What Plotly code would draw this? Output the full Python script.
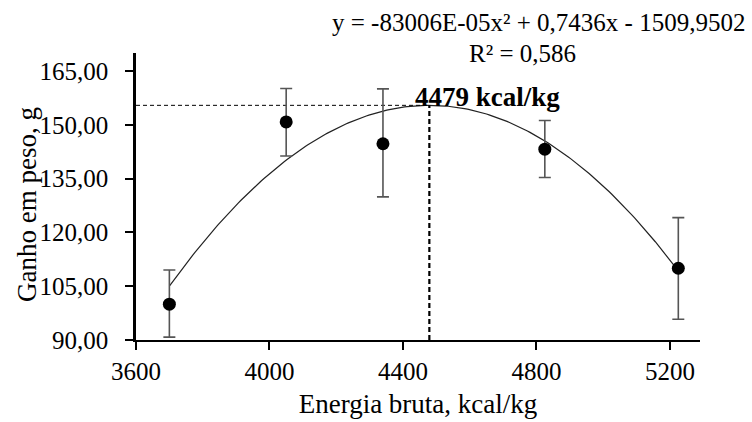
import plotly.graph_objects as go
import numpy as np

# Data
energy = [3700, 4050, 4340, 4825, 5225]
gain = [100.0, 150.8, 144.7, 143.2, 110.0]
err_plus = [9.5, 9.3, 15.3, 8.0, 14.1]
err_minus = [9.2, 9.5, 14.8, 7.9, 14.2]
coef_a, coef_b, coef_c = -8.3006e-05, 0.7436, -1509.9502
optimum = 4479
x_ticks = [3600, 4000, 4400, 4800, 5200]
y_ticks = [90, 105, 120, 135, 150, 165]
y_tick_labels = ["90,00", "105,00", "120,00", "135,00", "150,00", "165,00"]

FONT = "Liberation Serif"

xc = np.linspace(min(energy), max(energy), 200)
yc = coef_a * xc**2 + coef_b * xc + coef_c
ypeak = coef_a * optimum**2 + coef_b * optimum + coef_c

fig = go.Figure()
fig.add_trace(go.Scatter(x=xc, y=yc, mode="lines",
                         line=dict(color="#222222", width=1.2),
                         hoverinfo="skip", showlegend=False))
fig.add_trace(go.Scatter(x=[3600, optimum], y=[ypeak, ypeak], mode="lines",
                         line=dict(color="black", width=1, dash="4px,3px"),
                         showlegend=False))
fig.add_trace(go.Scatter(x=[optimum, optimum], y=[90, ypeak], mode="lines",
                         line=dict(color="black", width=2.2, dash="5px,3px"),
                         showlegend=False))
fig.add_trace(go.Scatter(x=energy, y=gain, mode="markers",
                         marker=dict(color="black", size=13),
                         error_y=dict(type="data", symmetric=False,
                                      array=err_plus, arrayminus=err_minus,
                                      color="#555555", thickness=1.6, width=6),
                         showlegend=False))

fig.add_annotation(x=0.7145, y=1.108, xref="paper", yref="paper",
                   text="y = -83006E-05x² + 0,7436x - 1509,9502",
                   showarrow=False, xanchor="center", yanchor="middle",
                   font=dict(family=FONT, size=25, color="black"))
fig.add_annotation(x=0.686, y=1.0, xref="paper", yref="paper",
                   text="R² = 0,586",
                   showarrow=False, xanchor="center", yanchor="middle",
                   font=dict(family=FONT, size=25, color="black"))
fig.add_annotation(x=0.491, y=0.847, xref="paper", yref="paper",
                   text="<b>4479 kcal/kg</b>",
                   showarrow=False, xanchor="left", yanchor="middle",
                   font=dict(family=FONT, size=27, color="black"))
# y-axis title
fig.add_annotation(x=-0.1933, y=0.474, xref="paper", yref="paper",
                   text="Ganho em peso, g", textangle=-90,
                   showarrow=False, xanchor="center", yanchor="middle",
                   font=dict(family=FONT, size=27, color="black"))

fig.update_layout(
    template="none",
    width=752, height=422,
    margin=dict(l=136, r=52, t=53, b=82, pad=0),
    plot_bgcolor="white", paper_bgcolor="white",
    font=dict(family=FONT, size=25, color="black"),
    xaxis=dict(range=[3600, 5290], tickvals=x_ticks,
               ticktext=[str(v) for v in x_ticks],
               automargin=False,
               showgrid=False, zeroline=False,
               showline=True, linecolor="black", linewidth=2,
               ticks="outside", ticklen=8, tickwidth=2, tickcolor="black",
               tickfont=dict(family=FONT, size=25),
               title=dict(text="Energia bruta, kcal/kg", standoff=10,
                          font=dict(family=FONT, size=27))),
    yaxis=dict(range=[90, 170], tickvals=y_ticks, ticktext=y_tick_labels,
               automargin=False,
               showgrid=False, zeroline=False,
               showline=True, linecolor="black", linewidth=2.5,
               ticks="outside", ticklen=8, tickwidth=2, tickcolor="black",
               ticklabelstandoff=12,
               tickfont=dict(family=FONT, size=25)),
)

fig.write_html("out.html",
               config={"displayModeBar": False},
               post_script="document.body.style.margin='0px';")
